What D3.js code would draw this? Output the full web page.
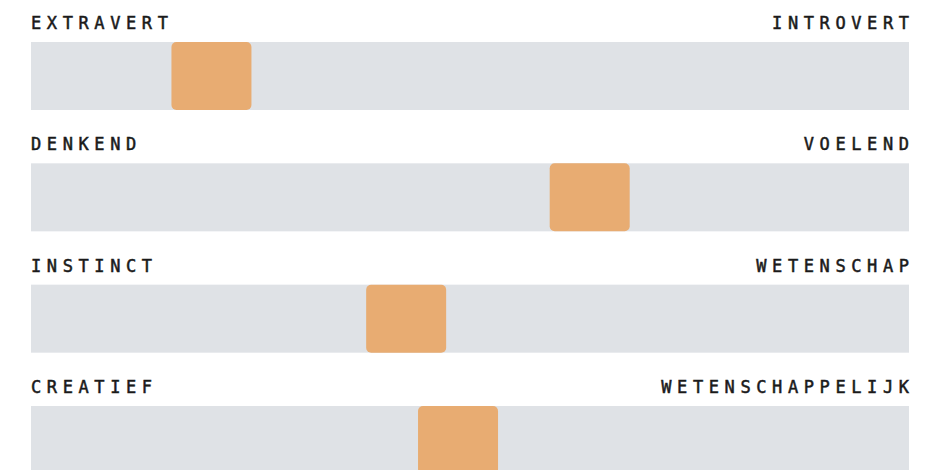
<!DOCTYPE html>
<html>
<head>
<meta charset="utf-8">
<script src="https://cdn.jsdelivr.net/npm/d3@7"></script>
<style>
  body { margin: 0; background: #fff; }
  text { font-family: "DejaVu Sans Mono", monospace; }
</style>
</head>
<body>
<svg width="950" height="470"></svg>
<script>
// left / right pole of each scale, and where the marker sits (0-100)
const leftLabels = ["EXTRAVERT", "DENKEND", "INSTINCT", "CREATIEF"];
const rightLabels = ["INTROVERT", "VOELEND", "WETENSCHAP", "WETENSCHAPPELIJK"];
const scores = [17.6, 65, 42, 48.5];

const svg = d3.select("svg");

const trackLeft = 31;
const trackRight = 909;
const trackH = 68;
const knobW = 80;
const spacing = 5.6;

const rows = leftLabels.map((l, i) => ({ left: l, right: rightLabels[i], score: scores[i] }));

const y = d3.scalePoint()
  .domain(leftLabels)
  .range([42, 406]);

const x = d3.scaleLinear()
  .domain([0, 100])
  .range([trackLeft + knobW / 2, trackRight - knobW / 2]);

const row = svg.selectAll("g.row")
  .data(rows)
  .join("g")
  .attr("class", "row")
  .attr("transform", d => `translate(0,${y(d.left)})`);

row.append("rect")
  .attr("x", trackLeft)
  .attr("width", trackRight - trackLeft)
  .attr("height", trackH)
  .attr("fill", "#dfe2e6");

row.append("rect")
  .attr("x", d => x(d.score) - knobW / 2)
  .attr("width", knobW)
  .attr("height", trackH)
  .attr("rx", 5)
  .attr("fill", "#e8ac72");

// labels, thickened a little with a thin stroke (medium weight look)
row.append("text")
  .attr("x", trackLeft)
  .attr("y", -13)
  .text(d => d.left)
  .style("font-size", "17px")
  .style("letter-spacing", spacing + "px")
  .attr("fill", "#1a1a1a")
  .attr("stroke", "#1a1a1a")
  .attr("stroke-width", 0.5);

row.append("text")
  .attr("x", trackRight + spacing)
  .attr("y", -13)
  .attr("text-anchor", "end")
  .text(d => d.right)
  .style("font-size", "17px")
  .style("letter-spacing", spacing + "px")
  .attr("fill", "#1a1a1a")
  .attr("stroke", "#1a1a1a")
  .attr("stroke-width", 0.5);
</script>
</body>
</html>
